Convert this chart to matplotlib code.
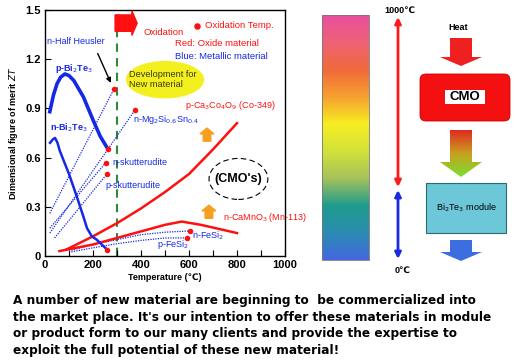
import matplotlib
matplotlib.use("Agg")
import matplotlib.pyplot as plt
import numpy as np
from matplotlib.patches import Ellipse, FancyArrow, FancyBboxPatch, Polygon, Rectangle
from matplotlib.colors import LinearSegmentedColormap

plt.rcParams["font.family"] = ["Liberation Sans", "DejaVu Sans"]

# ---- data (temperature in C, dimensionless ZT) ----
p_bi2te3_t = [20, 35, 50, 65, 83, 100, 120, 140, 160, 180, 200, 230, 263]
p_bi2te3_zt = [0.88, 0.98, 1.05, 1.09, 1.11, 1.10, 1.07, 1.02, 0.97, 0.90, 0.83, 0.73, 0.65]

n_bi2te3_t = [21, 32, 42, 52, 62, 100, 133, 160, 175, 195, 215, 258]
n_bi2te3_zt = [0.69, 0.71, 0.72, 0.69, 0.64, 0.50, 0.36, 0.24, 0.17, 0.12, 0.10, 0.04]

co349_t = [90, 200, 300, 400, 500, 600, 700, 800]
co349_zt = [0.04, 0.12, 0.20, 0.29, 0.39, 0.50, 0.65, 0.81]

mn113_t = [60, 200, 300, 400, 500, 570, 650, 800]
mn113_zt = [0.03, 0.07, 0.11, 0.15, 0.19, 0.21, 0.19, 0.14]

n_fesi2_t = [110, 200, 300, 400, 500, 604]
n_fesi2_zt = [0.035, 0.07, 0.10, 0.13, 0.145, 0.153]
p_fesi2_t = [110, 200, 300, 400, 500, 592]
p_fesi2_zt = [0.025, 0.05, 0.075, 0.095, 0.11, 0.11]

# dotted trend lines of the metallic materials
half_heusler_t = [20, 288]
half_heusler_zt = [0.26, 1.02]
mg2si_t = [20, 375]
mg2si_zt = [0.14, 0.89]
n_skutt_t = [20, 254]
n_skutt_zt = [0.17, 0.57]
p_skutt_t = [40, 258]
p_skutt_zt = [0.11, 0.50]

# oxidation temperatures (red dots)
ox_t = [288, 375, 254, 258, 263, 258, 604, 592]
ox_zt = [1.02, 0.89, 0.57, 0.50, 0.655, 0.035, 0.153, 0.11]

oxidation_limit = 300

x_ticks = list(range(0, 1001, 100))
x_tick_labels = ["0", "", "200", "", "400", "", "600", "", "800", "", "1000"]
y_ticks = [0, 0.3, 0.6, 0.9, 1.2, 1.5]
y_tick_labels = ["0", "0.3", "0.6", "0.9", "1.2", "1.5"]

bar_colors = ["#ea4f9e", "#ee6276", "#f06a3a", "#f7a030", "#f6ee22",
              "#d2e23a", "#a6c25a", "#1f9c8c", "#2a8cb0", "#4468e0"]

paragraph = ("A number of new material are beginning to  be commercialized into\n"
             "the market place. It's our intention to offer these materials in module\n"
             "or product form to our many clients and provide the expertise to\n"
             "exploit the full potential of these new material!")

W, H = 517, 364
BLUE = "#1428e6"
RED = "#ff1010"


def fig_rect(x0, y0, x1, y1):
    return [x0 / W, 1 - y1 / H, (x1 - x0) / W, (y1 - y0) / H]


fig = plt.figure(figsize=(W / 100, H / 100), dpi=100)

# ---------------- main chart ----------------
ax = fig.add_axes(fig_rect(45, 10, 285, 256))
ax.set_xlim(0, 1000)
ax.set_ylim(0, 1.5)
ax.set_xticks(x_ticks)
ax.set_xticklabels(x_tick_labels, fontsize=8, fontweight="bold")
ax.set_yticks(y_ticks)
ax.set_yticklabels(y_tick_labels, fontsize=8, fontweight="bold")
ax.tick_params(direction="in", length=4, width=0.8, pad=3)
for s in ax.spines.values():
    s.set_linewidth(1.0)
ax.set_xlabel("Temperature (\u2103)", fontsize=6.5, fontweight="bold", labelpad=2)
ax.set_ylabel("Dimensional figure of merit $ZT$", fontsize=6.5, fontweight="bold", labelpad=4)

ax.axvline(oxidation_limit, color="#2c8a3c", lw=1.5, ls=(0, (4, 3)), zorder=1)

for t, z in [(half_heusler_t, half_heusler_zt), (mg2si_t, mg2si_zt),
             (n_skutt_t, n_skutt_zt), (p_skutt_t, p_skutt_zt),
             (n_fesi2_t, n_fesi2_zt), (p_fesi2_t, p_fesi2_zt)]:
    ax.plot(t, z, color=BLUE, lw=0.9, ls=(0, (1, 1)), zorder=2)

ax.plot(co349_t, co349_zt, color=RED, lw=1.8, zorder=3)
ax.plot(mn113_t, mn113_zt, color=RED, lw=1.8, zorder=3)
ax.plot(p_bi2te3_t, p_bi2te3_zt, color=BLUE, lw=2.6, zorder=4, solid_joinstyle="round")
ax.plot(n_bi2te3_t, n_bi2te3_zt, color=BLUE, lw=1.8, zorder=4, solid_joinstyle="round")
ax.scatter(ox_t, ox_zt, s=16, color=RED, zorder=5, linewidths=0)

# oxidation arrow + legend text
ax.add_patch(FancyArrow(292, 1.42, 70, 0, width=0.10, head_width=0.15,
                        head_length=22, length_includes_head=False,
                        color=RED, clip_on=False, zorder=6))
ax.text(410, 1.36, "Oxidation", color=RED, fontsize=6.8, va="center")
ax.scatter([633], [1.405], s=22, color=RED, zorder=5, linewidths=0)
ax.text(668, 1.405, "Oxidation Temp.", color=RED, fontsize=6.8, va="center")
ax.text(543, 1.295, "Red: Oxide material", color=RED, fontsize=6.8, va="center")
ax.text(543, 1.215, "Blue: Metallic material", color=BLUE, fontsize=6.8, va="center")

ax.add_patch(Ellipse((500, 1.075), 320, 0.22, color="#f4f020", zorder=1))
ax.text(352, 1.075, "Development for\nNew material", color="#3a3a10",
        fontsize=6.6, va="center", ha="left", linespacing=1.15, zorder=2)

# material labels
ax.text(8, 1.31, "n-Half Heusler", color=BLUE, fontsize=6.5, va="center")
ax.annotate("", xy=(279, 1.04), xytext=(215, 1.25),
            arrowprops=dict(arrowstyle="-|>", color="black", lw=1.0,
                            mutation_scale=7))
ax.text(42, 1.145, "p-Bi$_2$Te$_3$", color=BLUE, fontsize=6.5, va="center", fontweight="bold")
ax.text(21, 0.78, "n-Bi$_2$Te$_3$", color=BLUE, fontsize=6.5, va="center", fontweight="bold")
ax.text(367, 0.835, "n-Mg$_2$Si$_{0.6}$Sn$_{0.4}$", color=BLUE, fontsize=6.5, va="center")
ax.text(279, 0.57, "n-skutterudite", color=BLUE, fontsize=6.5, va="center")
ax.text(250, 0.43, "p-skutterudite", color=BLUE, fontsize=6.5, va="center")
ax.text(583, 0.92, "p-Ca$_3$Co$_4$O$_9$ (Co-349)", color=RED, fontsize=6.5, va="center")
ax.text(742, 0.235, "n-CaMnO$_3$ (Mn-113)", color=RED, fontsize=6.5, va="center")
ax.text(612, 0.122, "n-FeSi$_2$", color=BLUE, fontsize=6.5, va="center")
ax.text(467, 0.073, "p-FeSi$_2$", color=BLUE, fontsize=6.5, va="center")

for cx, y0 in [(675, 0.70), (683, 0.23)]:
    ax.add_patch(FancyArrow(cx, y0, 0, 0.045, width=32, head_width=58,
                            head_length=0.035, color="#f7a020", zorder=5))

ax.add_patch(Ellipse((806, 0.47), 245, 0.25, fill=False, ec="black",
                     lw=0.8, ls=(0, (5, 3)), zorder=5))
ax.text(806, 0.47, "(CMO's)", fontsize=9, fontweight="bold", ha="center",
        va="center", zorder=6)

# ---------------- right-hand diagram + paragraph ----------------
deco = fig.add_axes([0, 0, 1, 1])
deco.set_xlim(0, W)
deco.set_ylim(H, 0)
deco.axis("off")
deco.patch.set_visible(False)

cmap = LinearSegmentedColormap.from_list("temp", bar_colors)
grad = np.linspace(0, 1, 256).reshape(-1, 1)
deco.imshow(grad, cmap=cmap, aspect="auto", extent=(322, 369, 260, 15))
deco.add_patch(Rectangle((322, 15), 47, 245, fill=False, ec="#777777", lw=0.6))

deco.annotate("", xy=(398, 17), xytext=(398, 187),
              arrowprops=dict(arrowstyle="<|-|>", color="#ff1a1a", lw=2.0,
                              mutation_scale=9, shrinkA=0, shrinkB=0))
deco.annotate("", xy=(398, 190), xytext=(398, 259),
              arrowprops=dict(arrowstyle="<|-|>", color="#1a2ae0", lw=2.0,
                              mutation_scale=9, shrinkA=0, shrinkB=0))
deco.text(400, 10, "1000\u2103", fontsize=6.5, fontweight="bold", ha="center", va="center")
deco.text(403, 270, "0\u2103", fontsize=6.5, fontweight="bold", ha="center", va="center")

deco.text(458, 28, "Heat", fontsize=6.5, fontweight="bold", ha="center", va="center")


def down_arrow(y0, y1, y2):
    return [(450, y0), (472, y0), (472, y1), (482, y1), (461, y2), (440, y1), (450, y1)]


deco.add_patch(Polygon(down_arrow(38, 57, 66), closed=True, color="#ee2020", lw=0))
deco.add_patch(FancyBboxPatch((420, 74), 90, 47, boxstyle="round,pad=0,rounding_size=6",
                              fc="#f41010", ec="#d00000", lw=0.6))
deco.add_patch(Rectangle((445, 90), 40, 14, fc="white", ec="none"))
deco.text(465, 97.5, "CMO", fontsize=9.5, fontweight="bold", ha="center", va="center")

grad_arrow = Polygon(down_arrow(130, 162, 177), closed=True, fc="none", ec="none")
deco.add_patch(grad_arrow)
arrow_cmap = LinearSegmentedColormap.from_list("heatflow", ["#e02a22", "#c8a020", "#78e030"])
img = deco.imshow(grad, cmap=arrow_cmap, aspect="auto", extent=(440, 482, 177, 130))
img.set_clip_path(grad_arrow)

deco.add_patch(Rectangle((426, 183), 80, 50, fc="#6cc8d8", ec="#2a6a70", lw=0.8))
deco.text(466, 208, "Bi$_2$Te$_3$ module", fontsize=6.5, ha="center", va="center")

deco.add_patch(Polygon(down_arrow(240, 252, 261), closed=True, color="#3c6ee0", lw=0))

deco.set_xlim(0, W)
deco.set_ylim(H, 0)

deco.text(13, 294, paragraph, fontsize=8.7, fontweight="bold", family="DejaVu Sans",
          ha="left", va="top", linespacing=1.36)

fig.savefig("out.png", dpi=100)
